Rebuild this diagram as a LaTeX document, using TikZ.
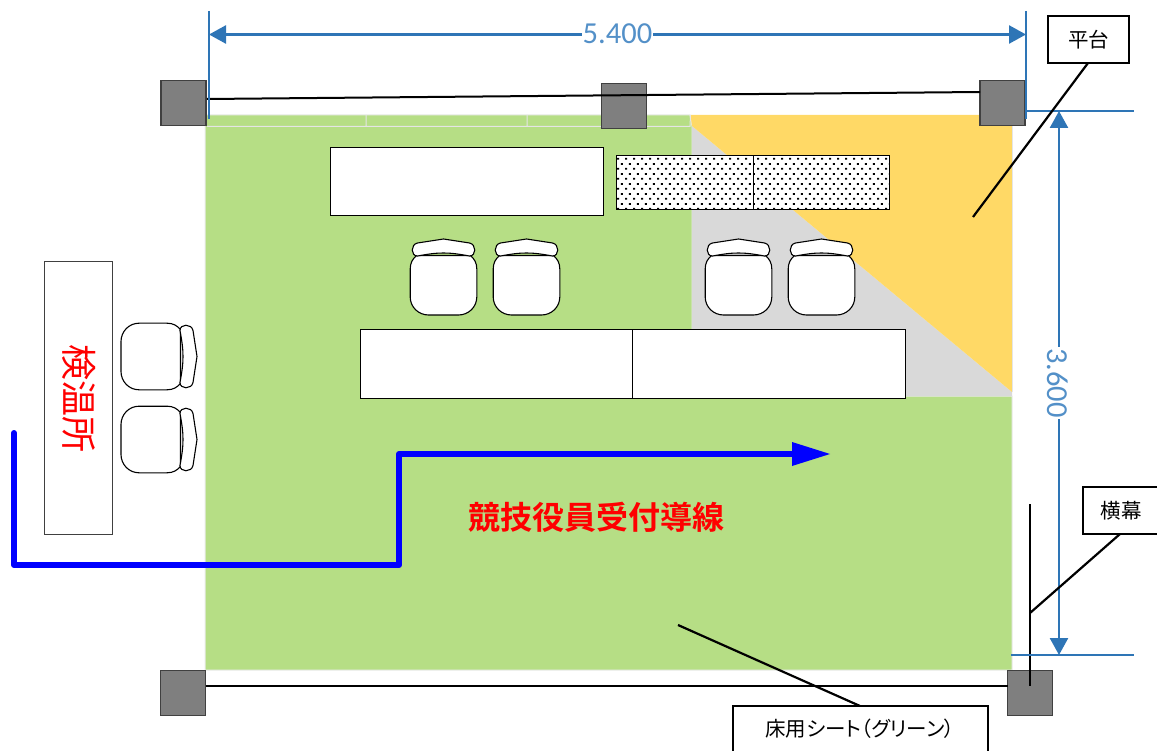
\documentclass[tikz,border=0pt]{standalone}
\usepackage{fontspec}
\setmainfont{Carlito}
\newfontfamily\jpfont{Noto Sans CJK JP}
\newfontfamily\jpprop[RawFeature=+palt]{Noto Sans CJK JP}
\newfontfamily\jpbold{Noto Sans CJK JP Bold}
\usetikzlibrary{arrows.meta,patterns}
\definecolor{floorgreen}{HTML}{B6DE85}
\definecolor{stageyellow}{HTML}{FFD966}
\definecolor{floorgray}{HTML}{D9D9D9}
\definecolor{pillargray}{HTML}{7F7F7F}
\definecolor{dimblue}{HTML}{2E75B6}
\definecolor{dimtext}{HTML}{5390C8}
\definecolor{routeblue}{HTML}{0000FF}
\pgfdeclarepatternformonly{jdots}{\pgfpointorigin}{\pgfpoint{7.8pt}{10pt}}{\pgfpoint{7.8pt}{10pt}}{%
  \pgfpathrectangle{\pgfpoint{1.1pt}{1.5pt}}{\pgfpoint{2pt}{2pt}}%
  \pgfpathrectangle{\pgfpoint{5pt}{6.5pt}}{\pgfpoint{2pt}{2pt}}%
  \pgfusepath{fill}}
\tikzset{
  pillar/.style={draw=black!75,line width=1.2pt,fill=pillargray,minimum size=45pt,inner sep=0pt,outer sep=0pt},
  desk/.style={draw=black,line width=1pt,fill=white,inner sep=0pt,outer sep=0pt},
  dotdesk/.style={draw=black,line width=1.1pt,inner sep=0pt,outer sep=0pt,preaction={fill=white},pattern=jdots,pattern color=black},
  callout/.style={draw=black,line width=2.2pt,fill=white,inner sep=0pt,outer sep=0pt,font=\jpfont\fontsize{20.5}{23}\selectfont},
  leader/.style={draw=black,line width=2.2pt},
  wire/.style={draw=black,line width=2pt},
  dimline/.style={draw=dimblue,line width=2.5pt},
  dimarrow/.style={draw=dimblue,line width=2.5pt,{Triangle[length=17pt,width=18pt]}-{Triangle[length=17pt,width=18pt]}},
  dimlabel/.style={text=dimtext,fill=white,inner xsep=1pt,inner ysep=1pt,font=\fontsize{30.5}{32}\selectfont},
  route/.style={draw=routeblue,line width=6pt,line join=round,line cap=round},
  redlabel/.style={text=red,inner sep=0pt},
  chairline/.style={draw=black,line width=1.1pt,fill=white},
  pics/chair/.style={code={
    \path[chairline] (-27,-21.5) .. controls (-31,-18) and (-33.3,-14) .. (-33.3,-8) -- (-33.3,20)
      .. controls (-33.3,30) and (-25,38) .. (-15,38) -- (15,38)
      .. controls (25,38) and (33.3,30) .. (33.3,20) -- (33.3,-8)
      .. controls (33.3,-14) and (31,-18) .. (27,-21.5) -- cycle;
    \path[chairline] (0,-38) -- (-26,-34) .. controls (-33,-32.5) and (-33,-21) .. (-26,-21)
      .. controls (-15,-23) and (-8,-24) .. (0,-24)
      .. controls (8,-24) and (15,-23) .. (26,-21)
      .. controls (33,-21) and (33,-32.5) .. (26,-34) -- cycle;
  }}
}
\begin{document}
\begin{tikzpicture}[x=1pt,y=-1pt]
\useasboundingbox (0,0) rectangle (1157,751);
% floor
\fill[floorgreen,draw=black!8,line width=1pt] (205,115) -- (690,115) -- (692,126) -- (692,396) -- (1012,396) -- (1012,670) -- (205,670) -- cycle;
\fill[floorgray] (692,126) -- (1012,392) -- (1012,396) -- (692,396) -- cycle;
\fill[stageyellow] (690.5,115) -- (1012,115) -- (1012,392) -- (692,126) -- cycle;
\draw[black!10,line width=1pt] (1012,115) -- (1012,392);
\draw[black!10,line width=1pt] (207,126.5) -- (690,126.5) -- (690.5,115) (366,115) -- (366,126.5) (527,115) -- (527,126.5);
% pillars
\node[pillar] (pTL) at (183.5,103) {};
\node[pillar] (pTM) at (624,106) {};
\node[pillar] (pTR) at (1002.5,103) {};
\node[pillar] (pBL) at (183,693) {};
\node[pillar] (pBR) at (1030,693) {};
% tables
\node[desk,minimum width=273pt,minimum height=68pt] (t1) at (466.5,182) {};
\node[dotdesk,minimum width=136.5pt,minimum height=54pt] (d1) at (685,182.5) {};
\node[dotdesk,minimum width=136.5pt,minimum height=54pt] (d2) at (821.5,182.5) {};
\node[desk,minimum width=272pt,minimum height=68pt] (t2) at (496,364) {};
\node[desk,minimum width=273pt,minimum height=68pt] (t3) at (768.5,364) {};
\node[desk,draw=black!75,minimum width=68pt,minimum height=272pt] (t4) at (78,398) {};
% chairs
\pic at (443.5,277) {chair};
\pic at (526.5,277) {chair};
\pic at (738.5,277) {chair};
\pic at (821.5,277) {chair};
\pic[rotate=-90] at (159,356.5) {chair};
\pic[rotate=-90] at (159,439.5) {chair};
% curtains
\coordinate (wA) at (207,99);
\coordinate (wB) at (980,92);
\draw[wire] (wA) -- (wB);
\draw[wire] (pBL.east |- 0,686) -- (pBR.west |- 0,686);
\coordinate (bannerTop) at (1030,504);
\coordinate (bannerEnd) at (1030,686);
\draw[wire] (bannerTop) -- (bannerEnd);
% dimensions
\coordinate (dA1) at (209,11); \coordinate (dA2) at (209,119);
\coordinate (dB1) at (1026,11); \coordinate (dB2) at (1026,119);
\draw[dimline] (dA1) -- (dA2);
\draw[dimline] (dB1) -- (dB2);
\coordinate (hA) at (209,34.5); \coordinate (hB) at (1026,34.5);
\draw[dimarrow] (hA) -- (hB);
\node[dimlabel] (w) at (617.5,34) {5.400};
\coordinate (eA1) at (1027,111); \coordinate (eA2) at (1134,111);
\coordinate (eB1) at (1011,655); \coordinate (eB2) at (1134,655);
\draw[dimline] (eA1) -- (eA2);
\draw[dimline] (eB1) -- (eB2);
\coordinate (vA) at (1059,111); \coordinate (vB) at (1059,655);
\draw[dimarrow] (vA) -- (vB);
\node[dimlabel,rotate=-90] (h) at (1058,383) {3.600};
% route
\coordinate (r0) at (14,433); \coordinate (r1) at (14,565); \coordinate (r2) at (399,565); \coordinate (r3) at (399,454); \coordinate (r4) at (830,454);
\draw[route] (r0) -- (r1) -- (r2) -- (r3) -- (794,454);
\fill[routeblue] (r4) -- (792,442) -- (792,466) -- cycle;
% labels
\node[redlabel,rotate=-90,font=\jpfont\fontsize{36}{38}\selectfont] (kion) at (79,398.5) {検温所};
\node[redlabel,font=\jpbold\fontsize{32}{34}\selectfont] (route) at (596,517) {競技役員受付導線};
% callouts
\node[callout,minimum width=81pt,minimum height=47pt] (cStage) at (1088.5,39.5) {平台};
\coordinate (cStageEnd) at (973,217);
\draw[leader] (1088,63) -- (cStageEnd);
\node[callout,minimum width=76pt,minimum height=47pt] (cBanner) at (1121,510.5) {横幕};
\coordinate (cBannerEnd) at (1030,613);
\draw[leader] (1120,534) -- (cBannerEnd);
\node[callout,minimum width=255pt,minimum height=60pt,anchor=north west] (cFloor) at (733,706) {};
\node[inner sep=0pt,font=\jpprop\fontsize{20.5}{23}\selectfont] (floorText) at (860,729) {床用シート（グリーン）};
\coordinate (cFloorEnd) at (678,625);
\draw[leader] (860,706) -- (cFloorEnd);
\end{tikzpicture}
\end{document}
